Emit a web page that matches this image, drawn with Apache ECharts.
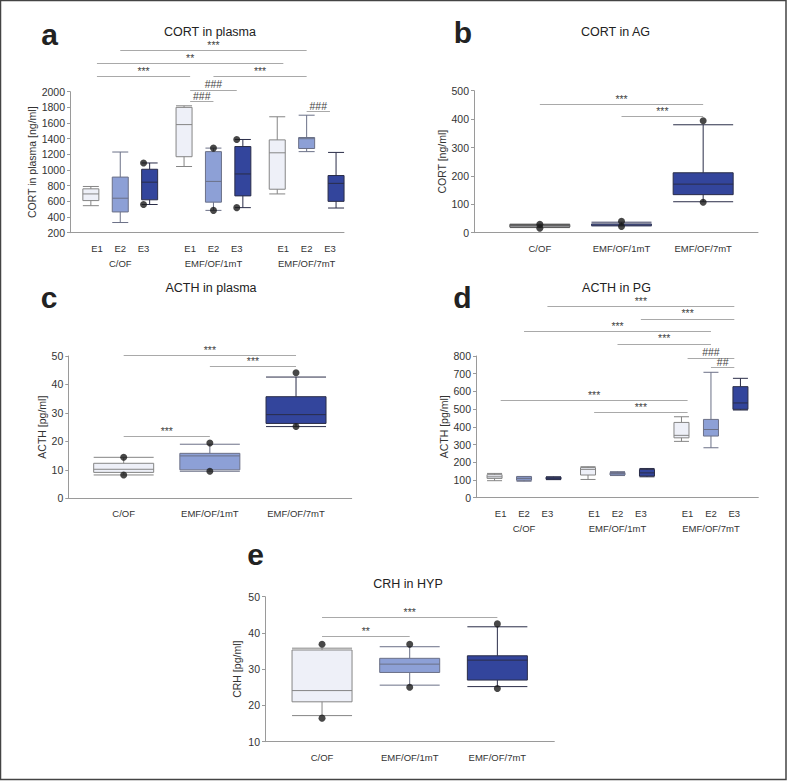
<!DOCTYPE html>
<html>
<head>
<meta charset="utf-8">
<script src="https://cdn.jsdelivr.net/npm/echarts@6/dist/echarts.min.js"></script>
<style>html,body{margin:0;padding:0;background:#fff}#c{width:787px;height:781px}</style>
</head>
<body>
<div id="c"></div>
<script>
// ---------- DATA ----------
const slotLabels = ['E1','E2','E3','','E1','E2','E3','','E1','E2','E3'];
const groupNames = ['C/OF','EMF/OF/1mT','EMF/OF/7mT'];
const groupLabelSlots = [1,5,9];
const slotsE1 = [0,4,8];
const slotsE2 = [1,5,9];
const slotsE3 = [2,6,10];

// a: CORT in plasma [ng/ml]  (min, Q1, median, Q3, max) per group
const cortPlasmaE1 = [[545,610,695,760,790],[1045,1170,1580,1800,1820],[695,755,1220,1385,1680]];
const cortPlasmaE2 = [[330,465,640,910,1230],[485,590,855,1235,1280],[1235,1275,1400,1415,1700]];
const cortPlasmaE3 = [[560,620,845,1010,1090],[520,670,950,1300,1390],[515,600,830,930,1225]];
const cortPlasmaDots = [[2,1090],[2,560],[5,1280],[5,485],[6,1390],[6,520]];
const cortPlasmaSig = [[1,9,2523,'***'],[0,8,2362,'**'],[0,4,2191,'***'],[5,9,2191,'***'],[4,6,2022,'###'],[4,5,1872,'###'],[9,10,1745,'###']];

// b: CORT in AG [ng/ml]
const cortAG = [[18,20,25,29,30],[24,25,27,31,37],[109,134,171,211,380]];
const cortAGDots = [[0,30],[0,16],[1,40],[1,22],[2,394],[2,107]];
const cortAGSig = [[0,2,452,'***'],[1,2,410,'***']];

// c: ACTH in plasma [pg/ml]
const acthPlasma = [[8.2,9.1,10.2,12.3,14.4],[9.5,10,14.9,15.8,19.0],[25.2,26.3,29.4,35.7,42.6]];
const acthPlasmaDots = [[0,14.4],[0,8.2],[1,19.4],[1,9.5],[2,44.1],[2,25.2]];
const acthPlasmaSig = [[0,2,50.3,'***'],[1,2,46.4,'***'],[0,1,21.7,'***']];

// d: ACTH in PG [pg/ml]
const acthPGE1 = [[96,109,118,130,137],[103,128,160,170,175],[318,338,352,425,457]];
const acthPGE2 = [[93,98,108,118,120],[125,128,136,142,147],[282,348,385,442,708]];
const acthPGE3 = [[102,104,110,116,118],[118,122,140,160,165],[495,499,535,627,674]];
const acthPGSig = [[2,10,1082,'***'],[6,10,1009,'***'],[1,9,941,'***'],[5,9,868,'***'],[8,10,790,'###'],[9,10,736,'##'],[0,8,548,'***'],[4,8,482,'***']];

// e: CRH in HYP [pg/ml]
const crhHyp = [[17.2,21.0,24.1,35.3,35.8],[25.6,29.1,31.4,33.0,36.2],[25.2,27.0,32.5,33.7,41.7]];
const crhHypDots = [[0,36.9],[0,16.5],[1,36.9],[1,25.0],[2,42.5],[2,24.7]];
const crhHypSig = [[0,2,44.2,'***'],[0,1,39.0,'**']];

// ---------- STYLE ----------
const FONT = 'Liberation Sans, Arial, sans-serif';
const styleE1 = {color:'#eef0f8', borderColor:'#858585', borderWidth:1};
const styleE2 = {color:'#8da0d6', borderColor:'#6b7087', borderWidth:1};
const styleE3 = {color:'#33459c', borderColor:'#2a2d48', borderWidth:1};
const styleBC = {color:'#c9cad0', borderColor:'#5a5a5a', borderWidth:1};
const styleB1 = {color:'#4759a6', borderColor:'#3a3f60', borderWidth:1};
const AXIS_COLOR = '#9a9a9a';
const SIG_LABEL = {show:true, position:'middle', formatter:'{b}', fontFamily:FONT, fontSize:10.5, color:'#444444', distance:0, textBorderWidth:0};

const option = {
  animation:false,
  backgroundColor:'#fff',
  grid:[], xAxis:[], yAxis:[], series:[], graphic:[]
};

function addPanel(p){
  const fi = option.grid.length;
  const fb = p.frame.top + p.frame.height;
  option.grid.push({left:p.frame.left, top:p.frame.top, width:p.frame.width, height:p.frame.height});
  option.xAxis.push({gridIndex:fi, type:'value', min:0, max:1,
    axisLine:{show:true, onZero:false, lineStyle:{color:AXIS_COLOR, width:1}},
    axisTick:{show:false}, axisLabel:{show:false}, splitLine:{show:false}});
  option.yAxis.push({gridIndex:fi, type:'value', min:p.yMin, max:p.yMax, interval:p.yInterval,
    name:p.yName, nameLocation:'middle', nameGap:p.nameGap,
    nameTextStyle:{fontFamily:FONT, fontSize:10.5, color:'#333'},
    axisLine:{show:true, lineStyle:{color:AXIS_COLOR, width:1}},
    axisTick:{show:true, length:3, lineStyle:{color:AXIS_COLOR}},
    axisLabel:{margin:5, fontFamily:FONT, fontSize:10.5, color:'#333', formatter:v => String(v)},
    splitLine:{show:false}});
  const di = fi + 1;
  const dataTop = fb - (p.dataMax - p.yMin) / (p.yMax - p.yMin) * p.frame.height;
  option.grid.push({left:p.data.left, width:p.data.width, top:dataTop, height:fb - dataTop});
  option.xAxis.push({gridIndex:di, type:'category', data:p.cats, boundaryGap:true,
    axisLine:{show:false}, axisTick:{show:false},
    axisLabel:Object.assign({interval:0, margin:8, fontFamily:FONT, fontSize:9.5, color:'#333', lineHeight:15}, p.labelFormatter ? {formatter:p.labelFormatter} : {}),
    splitLine:{show:false}});
  option.yAxis.push({gridIndex:di, type:'value', min:p.yMin, max:p.dataMax, show:false, splitLine:{show:false}});
  p.boxSeries.forEach(bs => {
    option.series.push({type:'boxplot', xAxisIndex:di, yAxisIndex:di,
      boxWidth:[p.boxWidth, p.boxWidth], encode:{x:0, y:[1,2,3,4,5]},
      itemStyle:bs.style || {}, emphasis:{disabled:true},
      data:bs.values.map((v,i) => {
        const it = {value:[bs.slots[i]].concat(v)};
        if (bs.styles) it.itemStyle = bs.styles[i];
        return it;
      })});
  });
  option.series.push({type:'scatter', xAxisIndex:di, yAxisIndex:di, symbolSize:7,
    itemStyle:{color:'#1a1a1a'}, silent:true, z:5,
    data:p.dots,
    markLine:{silent:true, symbol:['none','none'],
      lineStyle:{color:'#a9a9a9', width:1, type:'solid'},
      label:SIG_LABEL,
      emphasis:{disabled:true},
      data:p.sig.map(s => [{coord:[s[0], s[2]], name:s[3], label:SIG_LABEL, lineStyle:{color:'#a9a9a9'}}, {coord:[s[1], s[2]]}])}});
}

function groupedFormatter(v, i){
  const k = groupLabelSlots.indexOf(i);
  return k >= 0 ? v + '\n' + groupNames[k] : v;
}

addPanel({
  frame:{left:70, top:91.7, width:274, height:141},
  data:{left:85.3, width:256.3},
  yMin:200, yMax:2000, yInterval:200, dataMax:2600,
  yName:'CORT in plasma [ng/ml]', nameGap:33,
  cats:slotLabels, labelFormatter:groupedFormatter, boxWidth:16,
  boxSeries:[
    {slots:slotsE1, values:cortPlasmaE1, style:styleE1},
    {slots:slotsE2, values:cortPlasmaE2, style:styleE2},
    {slots:slotsE3, values:cortPlasmaE3, style:styleE3}],
  dots:cortPlasmaDots, sig:cortPlasmaSig
});

addPanel({
  frame:{left:474, top:90.7, width:284, height:142},
  data:{left:499, width:245},
  yMin:0, yMax:500, yInterval:100, dataMax:500,
  yName:'CORT [ng/ml]', nameGap:25,
  cats:groupNames, boxWidth:60,
  boxSeries:[{slots:[0,1,2], values:cortAG, styles:[styleBC, styleB1, styleE3]}],
  dots:cortAGDots, sig:cortAGSig
});

addPanel({
  frame:{left:68.3, top:356, width:283.4, height:142.3},
  data:{left:80.6, width:258.5},
  yMin:0, yMax:50, yInterval:10, dataMax:55,
  yName:'ACTH [pg/ml]', nameGap:21,
  cats:groupNames, boxWidth:60,
  boxSeries:[{slots:[0,1,2], values:acthPlasma, styles:[styleE1, styleE2, styleE3]}],
  dots:acthPlasmaDots, sig:acthPlasmaSig
});

addPanel({
  frame:{left:476, top:356, width:282.3, height:141.7},
  data:{left:489, width:257},
  yMin:0, yMax:800, yInterval:100, dataMax:1150,
  yName:'ACTH [pg/ml]', nameGap:27,
  cats:slotLabels, labelFormatter:groupedFormatter, boxWidth:15,
  boxSeries:[
    {slots:slotsE1, values:acthPGE1, style:styleE1},
    {slots:slotsE2, values:acthPGE2, style:styleE2},
    {slots:slotsE3, values:acthPGE3, style:styleE3}],
  dots:[], sig:acthPGSig
});

addPanel({
  frame:{left:265, top:596.7, width:289.3, height:145},
  data:{left:278.2, width:263},
  yMin:10, yMax:50, yInterval:10, dataMax:50,
  yName:'CRH [pg/ml]', nameGap:23,
  cats:groupNames, boxWidth:60,
  boxSeries:[{slots:[0,1,2], values:crhHyp, styles:[styleE1, styleE2, styleE3]}],
  dots:crhHypDots, sig:crhHypSig
});

// titles and panel letters
const titles = [['CORT in plasma',210,32],['CORT in AG',615.5,31.5],['ACTH in plasma',211,287.5],['ACTH in PG',616.5,287.5],['CRH in HYP',408,584]];
const letters = [['a',49.5,34],['b',463,32],['c',49,297],['d',462.5,297],['e',255.5,554]];
titles.forEach(t => option.graphic.push({type:'text', silent:true, style:{text:t[0], x:t[1], y:t[2], align:'center', verticalAlign:'middle', font:'12.5px ' + FONT, fill:'#222'}}));
letters.forEach(t => option.graphic.push({type:'text', silent:true, style:{text:t[0], x:t[1], y:t[2], align:'center', verticalAlign:'middle', font:'bold 30px ' + FONT, fill:'#222'}}));
option.graphic.push({type:'rect', silent:true, z:100, shape:{x:0.5, y:0.5, width:785.5, height:779}, style:{fill:'none', stroke:'#444', lineWidth:1.5}});

const chart = echarts.init(document.getElementById('c'), null, {renderer:'svg'});
chart.setOption(option);
</script>
</body>
</html>
